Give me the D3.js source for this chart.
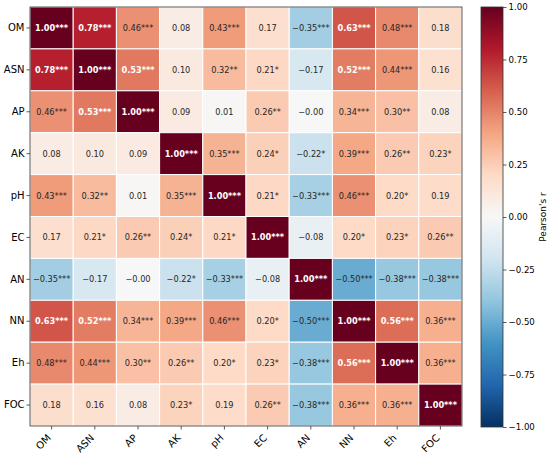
<!DOCTYPE html>
<html>
<head>
<meta charset="utf-8">
<script src="https://cdn.jsdelivr.net/npm/d3@7"></script>
<style>
  body { margin: 0; background: #fff; }
  text { font-family: "DejaVu Sans", sans-serif; }
</style>
</head>
<body>
<script>
const vars = ["OM", "ASN", "AP", "AK", "pH", "EC", "AN", "NN", "Eh", "FOC"];

const corr = [
  [ 1.00,  0.78,  0.46,  0.08,  0.43,  0.17, -0.35,  0.63,  0.48,  0.18],
  [ 0.78,  1.00,  0.53,  0.10,  0.32,  0.21, -0.17,  0.52,  0.44,  0.16],
  [ 0.46,  0.53,  1.00,  0.09,  0.01,  0.26, -0.001, 0.34,  0.30,  0.08],
  [ 0.08,  0.10,  0.09,  1.00,  0.35,  0.24, -0.22,  0.39,  0.26,  0.23],
  [ 0.43,  0.32,  0.01,  0.35,  1.00,  0.21, -0.33,  0.46,  0.20,  0.19],
  [ 0.17,  0.21,  0.26,  0.24,  0.21,  1.00, -0.08,  0.20,  0.23,  0.26],
  [-0.35, -0.17, -0.001, -0.22, -0.33, -0.08,  1.00, -0.50, -0.38, -0.38],
  [ 0.63,  0.52,  0.34,  0.39,  0.46,  0.20, -0.50,  1.00,  0.56,  0.36],
  [ 0.48,  0.44,  0.30,  0.26,  0.20,  0.23, -0.38,  0.56,  1.00,  0.36],
  [ 0.18,  0.16,  0.08,  0.23,  0.19,  0.26, -0.38,  0.36,  0.36,  1.00]
];

// number of significance stars per cell
const stars = [
  [3, 3, 3, 0, 3, 0, 3, 3, 3, 0],
  [3, 3, 3, 0, 2, 1, 0, 3, 3, 0],
  [3, 3, 3, 0, 0, 2, 0, 3, 2, 0],
  [0, 0, 0, 3, 3, 1, 1, 3, 2, 1],
  [3, 2, 0, 3, 3, 1, 3, 3, 1, 0],
  [0, 1, 2, 1, 1, 3, 0, 1, 1, 2],
  [3, 0, 0, 1, 3, 0, 3, 3, 3, 3],
  [3, 3, 3, 3, 3, 1, 3, 3, 3, 3],
  [3, 3, 2, 2, 1, 1, 3, 3, 3, 3],
  [0, 0, 0, 1, 0, 2, 3, 3, 3, 3]
];

const cbTicks = [-1, -0.75, -0.5, -0.25, 0, 0.25, 0.5, 0.75, 1];

// matplotlib RdBu_r
const rdbu = ["#053061","#2166ac","#4393c3","#92c5de","#d1e5f0","#f7f7f7",
              "#fddbc7","#f4a582","#d6604d","#b2182b","#67001f"];
const color = d3.scaleLinear()
    .domain(d3.range(11).map(i => -1 + i * 0.2))
    .range(rdbu)
    .interpolate(d3.interpolateRgb);

const width = 550, height = 456;
const hmLeft = 30, hmTop = 7, hmW = 432, hmH = 419;

const svg = d3.select("body").append("svg")
    .attr("width", width)
    .attr("height", height);

const x = d3.scaleBand().domain(vars).range([hmLeft, hmLeft + hmW]);
const y = d3.scaleBand().domain(vars).range([hmTop, hmTop + hmH]);

const cells = [];
corr.forEach(function(row, i) {
    row.forEach(function(v, j) {
        cells.push({r: vars[i], c: vars[j], v: v, s: stars[i][j]});
    });
});

svg.append("g").selectAll("rect")
    .data(cells)
    .enter().append("rect")
    .attr("x", d => x(d.c))
    .attr("y", d => y(d.r))
    .attr("width", x.bandwidth())
    .attr("height", y.bandwidth())
    .attr("fill", d => color(d.v))
    .attr("stroke", "#fff")
    .attr("stroke-width", 1);

function fmt(v) {
    let s = (Math.abs(v) < 0.005 && v < 0) ? "-0.00" : d3.format(".2f")(v);
    return s.replace("-", "\u2212");
}

svg.append("g").selectAll("text")
    .data(cells)
    .enter().append("text")
    .attr("x", d => x(d.c) + x.bandwidth() / 2)
    .attr("y", d => y(d.r) + y.bandwidth() / 2)
    .attr("text-anchor", "middle")
    .attr("dominant-baseline", "central")
    .attr("font-size", 8.2)
    .attr("font-weight", d => d.v > 0.5 ? "bold" : "normal")
    .attr("fill", d => d.v > 0.5 ? "#fff" : "#262626")
    .text(d => fmt(d.v) + "*".repeat(d.s));

// frame
svg.append("rect")
    .attr("x", hmLeft).attr("y", hmTop)
    .attr("width", hmW).attr("height", hmH)
    .attr("fill", "none").attr("stroke", "#333").attr("stroke-width", 0.8);

const yAxis = svg.append("g")
    .attr("transform", "translate(" + hmLeft + ",0)")
    .call(d3.axisLeft(y).tickSize(3.5).tickPadding(2));
const xAxis = svg.append("g")
    .attr("transform", "translate(0," + (hmTop + hmH) + ")")
    .call(d3.axisBottom(x).tickSize(3.5).tickPadding(2));
[xAxis, yAxis].forEach(function(a) {
    a.select(".domain").remove();
    a.selectAll("line").attr("stroke", "#333").attr("stroke-width", 0.8);
    a.selectAll("text").attr("font-size", 10).attr("fill", "#000")
        .attr("font-family", "DejaVu Sans");
});
xAxis.selectAll(".tick text")
    .attr("text-anchor", "end")
    .attr("x", 0).attr("y", 0).attr("dy", "0.35em")
    .attr("transform", "translate(-2.5,10) rotate(-45)");

// colorbar
const cbX = 481, cbW = 22, cbTop = 7, cbBot = 427;
const cb = d3.scaleLinear().domain([-1, 1]).range([cbBot, cbTop]);

const defs = svg.append("defs");
const grad = defs.append("linearGradient")
    .attr("id", "cbgrad")
    .attr("x1", "0").attr("y1", "1").attr("x2", "0").attr("y2", "0");
grad.selectAll("stop")
    .data(d3.range(0, 1.0001, 0.05))
    .enter().append("stop")
    .attr("offset", d => d)
    .attr("stop-color", d => color(-1 + 2 * d));

svg.append("rect")
    .attr("x", cbX).attr("y", cbTop)
    .attr("width", cbW).attr("height", cbBot - cbTop)
    .attr("fill", "url(#cbgrad)")
    .attr("stroke", "#333").attr("stroke-width", 0.8);

const cbAxis = svg.append("g")
    .attr("transform", "translate(" + (cbX + cbW) + ",0)")
    .call(d3.axisRight(cb).tickValues(cbTicks).tickSize(3.5).tickPadding(2)
        .tickFormat(d => d3.format(".2f")(d).replace("-", "\u2212")));
cbAxis.select(".domain").remove();
cbAxis.selectAll("line").attr("stroke", "#333").attr("stroke-width", 0.8);
cbAxis.selectAll("text").attr("font-size", 8.6).attr("fill", "#000")
    .attr("font-family", "DejaVu Sans");

svg.append("text")
    .attr("transform", "translate(546," + ((cbTop + cbBot) / 2) + ") rotate(-90)")
    .attr("text-anchor", "middle")
    .attr("font-size", 9)
    .text("Pearson's r");
</script>
</body>
</html>
